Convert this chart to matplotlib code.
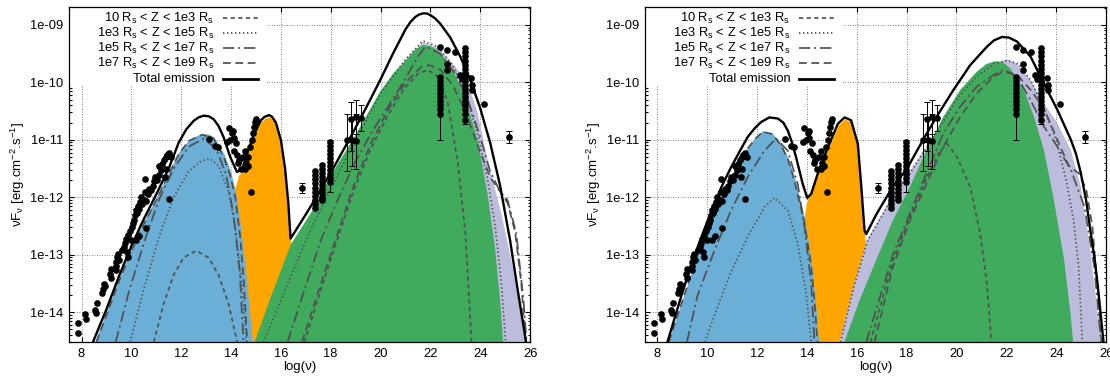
import numpy as np
import matplotlib
matplotlib.use('Agg')
import matplotlib.pyplot as plt
from matplotlib.patches import Rectangle
from matplotlib.ticker import FixedLocator, LogLocator, FuncFormatter, NullFormatter

plt.rcParams['font.family'] = ['Liberation Sans', 'DejaVu Sans']
plt.rcParams['mathtext.default'] = 'regular'
plt.rcParams['font.size'] = 9.3

# ---------------- observational data (log10 nu, log10 nuFnu) ----------------
RADIO_X = [7.87, 7.87, 8.16, 8.19, 8.54, 8.58, 8.63, 8.81, 8.85, 8.90,
           8.95, 9.13, 9.17, 9.20, 9.37, 9.38, 9.40, 9.44, 9.46, 9.50,
           9.62, 9.70, 9.74, 9.77, 9.84, 9.88, 9.88, 9.95, 9.98, 10.04,
           10.08, 10.11, 10.15, 10.17, 10.17, 10.22, 10.27, 10.31, 10.31, 10.35,
           10.38, 10.44, 10.50, 10.55, 10.55, 10.58, 10.60, 10.65, 10.72, 10.78,
           10.85, 10.91, 10.95, 11.02, 11.11, 11.11, 11.18, 11.25, 11.32, 11.36,
           11.38, 11.38, 11.45, 11.52, 11.52, 11.58]
RADIO_Y = [-14.37, -14.19, -14.04, -14.12, -13.97, -14.02, -13.84, -13.67, -13.60, -13.51,
           -13.55, -13.33, -13.40, -13.25, -13.27, -13.20, -13.12, -13.04, -12.98, -13.10,
           -12.92, -12.87, -12.80, -12.72, -12.96, -13.04, -12.66, -12.58, -12.75, -12.52,
           -12.45, -12.40, -12.30, -12.23, -12.75, -12.28, -12.15, -12.20, -12.67, -12.08,
           -12.00, -12.11, -12.05, -11.91, -11.68, -12.06, -12.53, -11.95, -11.85, -11.88,
           -11.80, -11.71, -11.65, -11.70, -11.62, -11.45, -11.53, -11.42, -11.36, -11.65,
           -11.30, -11.50, -11.26, -11.23, -12.03, -11.30]

OPT_X = [13.12, 13.37, 13.46, 13.83, 13.90, 13.95, 14.03, 14.07, 14.10, 14.12, 14.20,
         14.26, 14.30, 14.33, 14.40, 14.47, 14.55, 14.55, 14.62, 14.69, 14.69,
         14.76, 14.84, 14.90, 14.94, 14.98, 15.02, 14.80]
OPT_Y = [-10.98, -11.10, -11.12, -11.04, -10.80, -11.00, -10.88, -10.84, -10.96, -11.20, -11.06,
         -11.27, -11.40, -11.36, -11.50, -11.30, -11.50, -11.20, -11.40, -11.30, -11.45,
         -11.12, -11.00, -10.89, -10.77, -10.69, -10.63, -11.91]

XRAY_X = [16.85,
          17.39, 17.39, 17.39, 17.39, 17.39, 17.39, 17.39, 17.39, 17.39, 17.39,
          17.66, 17.66, 17.66, 17.66, 17.66, 17.66, 17.66, 17.66, 17.66, 17.66,
          17.99, 17.99, 17.99, 17.99, 17.99, 17.99, 17.99, 17.99, 17.99, 17.99, 17.99,
          18.66, 18.87, 19.00, 18.80, 19.00, 19.20]
XRAY_Y = [-11.84,
          -11.55, -11.62, -11.69, -11.76, -11.83, -11.90, -11.97, -12.04, -12.11, -12.19,
          -11.44, -11.51, -11.58, -11.65, -11.72, -11.79, -11.86, -11.93, -12.00, -12.05,
          -11.03, -11.10, -11.17, -11.24, -11.31, -11.38, -11.45, -11.52, -11.59, -11.66, -11.74,
          -11.00, -11.00, -11.02, -10.63, -10.60, -10.62]

GAMMA_X = [22.38, 22.68, 22.97, 22.68, 22.68,
           22.38, 22.38, 22.38, 22.38, 22.38, 22.38, 22.38, 22.38, 22.38, 22.38,
           23.38, 23.38, 23.38, 23.38, 23.38, 23.38, 23.38, 23.38, 23.38, 23.38,
           23.38, 23.38, 23.38, 23.38, 23.38, 23.38, 23.38, 23.38,
           23.17, 23.25, 23.65, 23.68, 23.68, 24.16, 25.15]
GAMMA_Y = [-9.38, -9.44, -9.47, -9.68, -9.78,
           -9.90, -9.97, -10.04, -10.11, -10.18, -10.25, -10.32, -10.39, -10.46, -10.55,
           -9.41, -9.48, -9.55, -9.62, -9.69, -9.76, -9.83, -9.90, -9.97, -10.04,
           -10.11, -10.18, -10.25, -10.32, -10.39, -10.46, -10.55, -10.65,
           -9.87, -9.95, -9.93, -10.05, -10.13, -10.38, -10.95]

ERR_X = [16.85, 17.99, 18.66, 18.87, 19.00, 18.80, 19.00, 19.20, 22.38, 23.38, 25.15]
ERR_LO = [-11.93, -11.90, -11.55, -11.45, -11.50, -11.20, -10.90, -10.85, -11.00, -10.72, -11.05]
ERR_HI = [-11.75, -11.00, -10.55, -10.60, -10.55, -10.35, -10.30, -10.40, -9.90, -9.40, -10.85]

# ---------------- left panel model curves ----------------
A_TOT_X = [8.46, 9.0, 9.5, 10.0, 10.5, 11.0, 11.5, 11.9, 12.2, 12.5, 12.7, 12.9, 13.1, 13.3,
           13.5, 13.7, 13.97, 14.24, 14.45, 14.65, 14.9, 15.2, 15.35, 15.53, 15.65, 15.8, 16.0,
           16.17, 16.3, 16.39, 17.0, 17.6, 18.2, 18.8, 19.4, 20.0, 20.5, 21.0, 21.2, 21.4, 21.55,
           21.7, 21.85, 22.0, 22.2, 22.4, 22.8, 23.2, 23.6, 24.0, 24.4, 24.8, 25.2, 25.5, 25.84]
A_TOT_Y = [-14.52, -13.95, -13.38, -12.85, -12.38, -11.95, -11.50, -11.05, -10.82, -10.67,
           -10.61, -10.58, -10.59, -10.64, -10.76, -10.95, -11.30, -11.56, -11.50, -11.24,
           -10.93, -10.66, -10.60, -10.57, -10.60, -10.70, -11.0, -11.5, -12.1, -12.72, -12.30,
           -11.87, -11.42, -10.95, -10.46, -9.95, -9.50, -9.08, -8.95, -8.86, -8.82, -8.80,
           -8.80, -8.83, -8.89, -8.98, -9.22, -9.55, -9.95, -10.45, -11.05, -11.80, -12.75,
           -13.60, -14.52]

A_BLUE_X = [8.52, 9.0, 9.5, 10.0, 10.5, 11.0, 11.5, 11.9, 12.3, 12.6, 12.85, 13.1, 13.31, 13.71,
            13.97, 14.17, 14.37, 14.57, 14.71, 14.86]
A_BLUE_Y = [-14.52, -13.99, -13.42, -12.89, -12.42, -12.0, -11.56, -11.22, -11.0, -10.93,
            -10.89, -10.90, -10.95, -11.24, -11.53, -11.88, -12.46, -13.21, -13.85, -14.52]

A_ORANGE_X = [13.8, 14.0, 14.15, 14.3, 14.45, 14.65, 14.9, 15.2, 15.35, 15.53, 15.65, 15.8,
              16.0, 16.17, 16.3, 16.39, 16.5, 16.6]
A_ORANGE_Y = [-13.2, -12.3, -11.85, -11.62, -11.55, -11.29, -10.96, -10.69, -10.63, -10.60,
              -10.63, -10.73, -11.03, -11.53, -12.13, -12.75, -13.50, -14.40]

A_GREEN_X = [14.95, 15.6, 16.4, 17.34, 18.0, 18.95, 20.0, 20.5, 21.0, 21.4, 21.7, 22.0, 22.3,
             22.85, 23.38, 23.9, 24.3, 24.6, 24.8, 24.92]
A_GREEN_Y = [-14.52, -13.73, -12.82, -12.18, -11.62, -10.95, -10.15, -9.85, -9.62, -9.42,
             -9.35, -9.37, -9.44, -9.73, -10.25, -11.0, -11.95, -12.9, -13.8, -14.52]

A_LAV_X = [17.5, 18.5, 19.5, 20.5, 21.2, 21.7, 22.3, 22.9, 23.44, 23.87, 24.3, 24.88,
           25.31, 25.6, 25.80]
A_LAV_Y = [-14.52, -12.6, -11.2, -10.1, -9.55, -9.30, -9.40, -9.68, -9.95, -10.48, -11.35,
           -12.34, -13.22, -13.97, -14.52]

A_SD1_X = [10.9, 11.3, 11.7, 12.1, 12.6, 13.1, 13.5, 13.9, 14.25]
A_SD1_Y = [-14.52, -13.85, -13.35, -13.05, -12.93, -13.05, -13.35, -13.85, -14.52]
A_DOT1_X = [9.95, 10.5, 11.1, 11.7, 12.3, 12.8, 13.15, 13.5, 13.9, 14.2, 14.45, 14.62]
A_DOT1_Y = [-14.52, -13.6, -12.7, -12.0, -11.55, -11.37, -11.33, -11.45, -11.9, -12.6, -13.6, -14.52]
A_DD1_X = [9.37, 9.9, 10.5, 11.1, 11.7, 12.3, 12.9, 13.4, 13.8, 14.1, 14.35, 14.5]
A_DD1_Y = [-14.52, -13.65, -12.8, -12.05, -11.5, -11.12, -10.98, -11.15, -11.6, -12.3, -13.3, -14.52]
A_LD1_X = [8.6, 9.0, 9.5, 10.0, 10.5, 11.0, 11.5, 11.9, 12.3, 12.85, 13.31, 13.71, 13.97, 14.17,
           14.37, 14.52, 14.65]
A_LD1_Y = [-14.52, -14.05, -13.47, -12.94, -12.47, -12.05, -11.6, -11.25, -11.02, -10.91, -10.98,
           -11.3, -11.62, -12.0, -12.7, -13.5, -14.52]

A_SD2_X = [16.95, 17.61, 18.28, 18.95, 19.62, 20.3, 20.97, 21.5, 21.9, 22.3, 22.7, 23.1, 23.4, 23.65]
A_SD2_Y = [-14.52, -13.6, -12.72, -11.85, -11.15, -10.57, -10.1, -9.85, -9.78, -9.9, -10.35,
           -11.4, -12.6, -14.52]
A_DOT2_X = [15.3, 16.0, 17.0, 18.0, 19.0, 20.0, 21.0, 21.7, 22.3, 22.9, 23.4, 23.9, 24.3, 24.6,
            24.85, 25.02]
A_DOT2_Y = [-14.52, -13.8, -12.75, -11.85, -11.0, -10.2, -9.6, -9.28, -9.38, -9.7, -10.2, -10.9,
            -11.7, -12.5, -13.5, -14.52]
A_DD2_X = [16.27, 16.94, 17.61, 18.28, 18.95, 19.62, 20.3, 20.97, 21.5, 21.8, 22.4, 23.0, 23.5,
           24.0, 24.4, 24.8, 25.1, 25.45, 25.74, 25.86]
A_DD2_Y = [-14.52, -13.62, -12.74, -12.05, -11.41, -10.89, -10.42, -9.96, -9.55, -9.38, -9.5,
           -9.85, -10.3, -10.95, -11.55, -11.9, -12.05, -12.63, -13.8, -14.52]
A_LD2_X = [16.85, 17.61, 18.28, 18.95, 19.62, 20.3, 20.97, 21.64, 21.95, 22.4, 22.9, 23.4, 23.9,
           24.4, 24.8, 25.1, 25.4, 25.65, 25.82]
A_LD2_Y = [-14.52, -13.5, -12.63, -11.76, -11.06, -10.48, -10.02, -9.73, -9.70, -9.78, -10.05,
           -10.5, -11.1, -11.65, -11.9, -12.1, -12.6, -13.5, -14.52]

# ---------------- right panel model curves ----------------
B_TOT_X = [8.40, 8.94, 9.3, 9.61, 10.0, 10.28, 10.6, 10.95, 11.3, 11.62, 11.9, 12.16, 12.49,
           12.83, 13.05, 13.23, 13.4, 13.56, 13.83, 14.01, 14.17, 14.43, 14.84, 15.24, 15.51,
           15.77, 16.04, 16.18, 16.31, 16.38, 16.78, 17.45, 17.99, 18.66, 19.2, 19.88, 20.55,
           21.22, 21.5, 21.83, 22.1, 22.43, 22.97, 23.51, 24.05, 24.59, 24.8, 24.99, 25.2, 25.39,
           25.55, 25.66, 25.9]
B_TOT_Y = [-14.52, -13.74, -13.25, -12.87, -12.42, -12.11, -11.79, -11.48, -11.2, -10.95, -10.8,
           -10.69, -10.61, -10.63, -10.70, -10.84, -11.05, -11.30, -11.77, -12.01, -11.94, -11.59,
           -11.13, -10.72, -10.61, -10.66, -11.07, -11.82, -12.58, -12.64, -12.30, -11.81, -11.52,
           -11.0, -10.6, -10.13, -9.70, -9.38, -9.27, -9.21, -9.22, -9.29, -9.55, -10.02, -10.48,
           -11.0, -11.25, -11.58, -12.05, -12.63, -13.1, -13.50, -14.52]

B_BLUE_X = [8.42, 8.94, 9.61, 10.28, 10.95, 11.62, 11.95, 12.22, 12.6, 12.96, 13.25, 13.5, 13.9,
            14.17, 14.37, 14.47]
B_BLUE_Y = [-14.52, -13.86, -12.98, -12.29, -11.65, -11.13, -10.95, -10.84, -10.88, -11.07,
            -11.32, -11.65, -12.35, -13.1, -13.97, -14.52]

B_ORANGE_X = [13.5, 13.8, 13.97, 14.3, 14.84, 15.24, 15.51, 15.77, 16.04, 16.18, 16.31, 16.45, 16.7]
B_ORANGE_Y = [-13.9, -12.6, -12.11, -11.68, -11.16, -10.75, -10.64, -10.69, -11.1, -11.85,
              -12.62, -13.3, -14.4]

B_LAV_X = [15.3, 15.9, 16.43, 17.0, 17.45, 18.13, 18.66, 19.07, 19.47, 20.15, 20.82, 21.49,
           22.03, 22.43, 22.97, 23.51, 24.05, 24.59, 24.99, 25.39, 25.66, 25.85]
B_LAV_Y = [-14.52, -13.5, -12.72, -12.3, -11.95, -11.55, -11.2, -11.0, -10.7, -10.18, -9.86,
           -9.66, -9.60, -9.67, -9.96, -10.36, -10.71, -11.18, -11.82, -12.98, -14.0, -14.52]

B_GREEN_X = [15.5, 16.11, 16.78, 17.45, 18.13, 18.8, 19.47, 20.15, 20.82, 21.2, 21.56, 21.9,
             22.16, 22.7, 23.11, 23.51, 23.91, 24.32, 24.59, 24.68]
B_GREEN_Y = [-14.52, -13.79, -13.09, -12.40, -11.82, -11.18, -10.6, -10.13, -9.81, -9.68, -9.63,
             -9.66, -9.76, -10.13, -10.6, -11.18, -12.05, -13.09, -14.08, -14.52]

B_LD1_X = [8.45, 8.94, 9.61, 10.28, 10.95, 11.62, 11.95, 12.22, 12.6, 12.96, 13.25, 13.5, 13.9,
           14.17, 14.3, 14.42]
B_LD1_Y = [-14.52, -13.88, -13.0, -12.31, -11.67, -11.15, -10.97, -10.86, -10.9, -11.09, -11.36,
           -11.72, -12.45, -13.2, -13.8, -14.52]
B_DD1_X = [9.18, 9.6, 10.28, 10.95, 11.62, 12.29, 12.76, 13.23, 13.63, 13.9, 14.17, 14.3]
B_DD1_Y = [-14.52, -13.72, -12.93, -12.23, -11.65, -11.19, -10.98, -11.19, -11.77, -12.52,
           -13.51, -14.52]
B_DOT1_X = [9.9, 10.4, 10.95, 11.62, 12.29, 12.69, 13.23, 13.63, 13.97, 14.17]
B_DOT1_Y = [-14.52, -13.92, -13.3, -12.69, -12.17, -12.01, -12.23, -12.81, -13.68, -14.52]

B_SD2_X = [16.55, 17.45, 18.13, 18.8, 19.3, 19.61, 20.01, 20.55, 20.95, 21.22, 21.4]
B_SD2_Y = [-14.52, -13.1, -12.34, -11.67, -11.22, -11.06, -11.29, -11.82, -12.63, -13.5, -14.52]
B_DOT2_X = [15.35, 15.9, 16.43, 17.0, 17.45, 18.13, 18.66, 19.3, 20.0, 20.8, 21.5, 22.03, 22.5,
            23.0, 23.5, 24.0, 24.4, 24.7, 24.9, 25.05]
B_DOT2_Y = [-14.52, -13.53, -12.76, -12.33, -11.98, -11.58, -11.23, -10.8, -10.3, -9.9, -9.68,
            -9.62, -9.68, -9.98, -10.45, -11.0, -11.7, -12.4, -13.2, -14.52]
B_DD2_X = [16.38, 17.45, 18.13, 18.8, 19.47, 20.15, 20.82, 21.49, 21.9, 22.43, 22.97, 23.51,
           24.05, 24.59, 25.13, 25.53, 25.8]
B_DD2_Y = [-14.52, -13.0, -12.28, -11.58, -10.89, -10.42, -10.07, -9.87, -9.78, -9.9, -10.31,
           -10.77, -11.12, -11.52, -12.16, -13.21, -14.52]
B_LD2_X = [16.71, 17.45, 18.13, 18.8, 19.47, 20.15, 20.82, 21.49, 21.9, 22.43, 22.97, 23.5, 24.0,
           24.5, 24.9, 25.2, 25.45, 25.65, 25.82]
B_LD2_Y = [-14.52, -13.21, -12.40, -11.76, -11.12, -10.6, -10.19, -9.9, -9.81, -9.87, -10.13,
           -10.45, -10.95, -11.45, -11.58, -11.85, -12.5, -13.5, -14.52]

LEGEND_LABELS = [r'10 R$_s$ < Z < 1e3 R$_s$', r'1e3 R$_s$ < Z < 1e5 R$_s$',
                 r'1e5 R$_s$ < Z < 1e7 R$_s$', r'1e7 R$_s$ < Z < 1e9 R$_s$', 'Total emission']
X_TICKS = [8, 10, 12, 14, 16, 18, 20, 22, 24, 26]
Y_TICK_EXP = [-14, -13, -12, -11, -10, -9]

C_BLUE, C_ORANGE, C_GREEN, C_LAV = '#6baed6', '#ffa500', '#41ab5d', '#bcbddc'
C_LINE = '#505050'
STY = {'sd': (0, (2.4, 2.0)), 'dot': (0, (0.8, 1.5)), 'dd': (0, (6.5, 2.2, 1.2, 2.2)),
       'ld': (0, (4.5, 2.6)), 'tot': '-'}
YMIN, YMAX = 10 ** -14.523, 10 ** -8.692


def P(v):
    return np.power(10.0, np.asarray(v, dtype=float))


def panel(ax, fills, lines, tot):
    for x, y, c, z in fills:
        ax.fill_between(x, 1e-17, P(y), color=c, lw=0, zorder=z)
    for x, y, s in lines:
        ax.plot(x, P(y), color=C_LINE, lw=1.25, ls=STY[s], zorder=4)
    ax.plot(tot[0], P(tot[1]), color='k', lw=1.7, zorder=5, solid_joinstyle='round')
    lo = P(ERR_LO)
    hi = P(ERR_HI)
    yy = np.sqrt(lo * hi)
    ax.errorbar(ERR_X, yy, yerr=[yy - lo, hi - yy], fmt='none', ecolor='k',
                elinewidth=0.7, capsize=2, capthick=0.7, zorder=6)
    for xs, ys in ((RADIO_X, RADIO_Y), (OPT_X, OPT_Y), (XRAY_X, XRAY_Y), (GAMMA_X, GAMMA_Y)):
        ax.plot(xs, P(ys), 'o', color='k', ms=4.8, mew=0, zorder=7)

    ax.set_yscale('log')
    ax.set_xlim(7.5, 26)
    ax.set_ylim(YMIN, YMAX)
    ax.set_xticks(X_TICKS)
    ax.yaxis.set_major_locator(FixedLocator(P(Y_TICK_EXP)))
    ax.yaxis.set_minor_locator(LogLocator(base=10, subs=np.arange(2, 10), numticks=20))
    ax.yaxis.set_minor_formatter(NullFormatter())
    ax.yaxis.set_major_formatter(FuncFormatter(lambda v, p: f'{v:.0e}'))
    ax.tick_params(which='both', direction='in', top=True, right=True, width=0.8,
                   labelsize=9.3, pad=4)
    ax.tick_params(which='major', length=3.3)
    ax.tick_params(which='minor', length=1.8)
    ax.set_axisbelow(True)
    ax.grid(True, which='major', color='0.35', ls=(0, (1, 2)), lw=0.6)
    for sp in ax.spines.values():
        sp.set_linewidth(0.9)
    ax.set_xlabel('log(ν)', labelpad=1, fontsize=9.5)
    ax.set_ylabel(r'νF$_ν$ [erg.cm$^{-2}$.s$^{-1}$]', labelpad=2, fontsize=9.5)

    # key (gnuplot style: right-aligned text, sample on the right, opaque white box)
    ax.add_patch(Rectangle((0, 0.765), 0.427, 0.235, transform=ax.transAxes,
                           fc='white', ec='none', zorder=0.9))
    rows = [0.967, 0.922, 0.877, 0.832, 0.786]
    styles = ['sd', 'dot', 'dd', 'ld', 'tot']
    for lab, yr, s in zip(LEGEND_LABELS, rows, styles):
        ax.text(0.315, yr, lab, transform=ax.transAxes, ha='right', va='center',
                fontsize=9.3, zorder=10)
        if s == 'tot':
            ax.plot([0.333, 0.410], [yr, yr], transform=ax.transAxes, color='k',
                    lw=2.0, zorder=10)
        else:
            ax.plot([0.333, 0.410], [yr, yr], transform=ax.transAxes, color=C_LINE,
                    lw=1.25, ls=STY[s], zorder=10)


fig = plt.figure(figsize=(11.1, 3.79), dpi=100)
axL = fig.add_axes([0.0622, 0.097, 0.4153, 0.884])
axR = fig.add_axes([0.5811, 0.097, 0.4153, 0.884])

panel(axL,
      [(A_ORANGE_X, A_ORANGE_Y, C_ORANGE, 1.0), (A_BLUE_X, A_BLUE_Y, C_BLUE, 1.2),
       (A_LAV_X, A_LAV_Y, C_LAV, 1.3), (A_GREEN_X, A_GREEN_Y, C_GREEN, 1.4)],
      [(A_SD1_X, A_SD1_Y, 'sd'), (A_DOT1_X, A_DOT1_Y, 'dot'), (A_DD1_X, A_DD1_Y, 'dd'),
       (A_LD1_X, A_LD1_Y, 'ld'), (A_SD2_X, A_SD2_Y, 'sd'), (A_DOT2_X, A_DOT2_Y, 'dot'),
       (A_DD2_X, A_DD2_Y, 'dd'), (A_LD2_X, A_LD2_Y, 'ld')],
      (A_TOT_X, A_TOT_Y))

panel(axR,
      [(B_ORANGE_X, B_ORANGE_Y, C_ORANGE, 1.0), (B_BLUE_X, B_BLUE_Y, C_BLUE, 1.2),
       (B_LAV_X, B_LAV_Y, C_LAV, 1.3), (B_GREEN_X, B_GREEN_Y, C_GREEN, 1.4)],
      [(B_DOT1_X, B_DOT1_Y, 'dot'), (B_DD1_X, B_DD1_Y, 'dd'), (B_LD1_X, B_LD1_Y, 'ld'),
       (B_SD2_X, B_SD2_Y, 'sd'), (B_DOT2_X, B_DOT2_Y, 'dot'), (B_DD2_X, B_DD2_Y, 'dd'),
       (B_LD2_X, B_LD2_Y, 'ld')],
      (B_TOT_X, B_TOT_Y))

fig.savefig('out.png', dpi=100)
